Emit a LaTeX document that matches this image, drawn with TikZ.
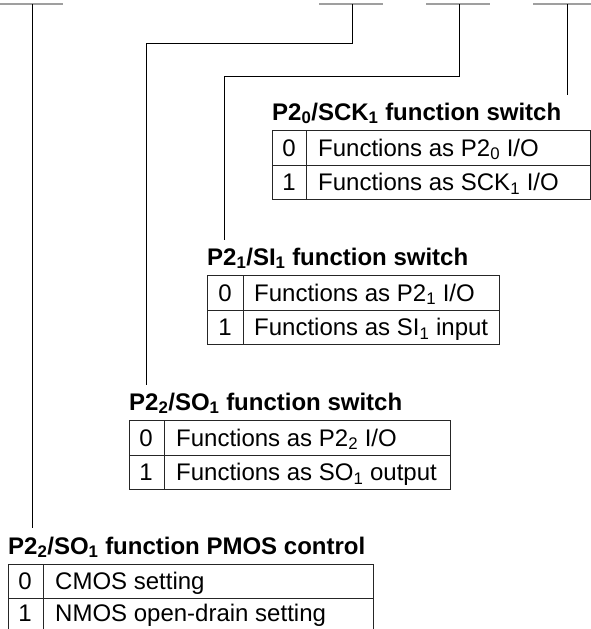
\documentclass[tikz,border=0pt]{standalone}
\usepackage{fontspec}
\setmainfont{Liberation Sans}
\begin{document}
\begin{tikzpicture}[x=1pt,y=-1pt,
  stub/.style={draw=gray!75,line width=1.6pt},
  conn/.style={draw=black,line width=0.9pt},
  tbl/.style={draw=black!85,line width=0.9pt},
  ttl/.style={anchor=base west,inner sep=0pt,font=\fontsize{24}{28}\selectfont\bfseries},
  dig/.style={anchor=base,inner sep=0pt,font=\fontsize{24}{28}\selectfont},
  txt/.style={anchor=base west,inner sep=0pt,font=\fontsize{24}{28}\selectfont}]
\useasboundingbox (0,0) rectangle (591,629);
% stubs
\coordinate (s1a) at (0,4);   \coordinate (s1b) at (63,4);
\coordinate (s2a) at (319,4); \coordinate (s2b) at (383,4);
\coordinate (s3a) at (426,4); \coordinate (s3b) at (490,4);
\coordinate (s4a) at (533,4); \coordinate (s4b) at (591,4);
\draw[stub] (s1a) -- (s1b);
\draw[stub] (s2a) -- (s2b);
\draw[stub] (s3a) -- (s3b);
\draw[stub] (s4a) -- (s4b);
\coordinate (p1) at (32,4);
\coordinate (p2) at (352,4);
\coordinate (p3) at (459,4);
\coordinate (p4) at (567,4);
\coordinate (e1) at (32,528);
\coordinate (e2) at (146,385);
\coordinate (e3) at (224,240);
\coordinate (e4) at (567,95);
\coordinate (k2) at (352,43);
\coordinate (k3) at (459,76);
% connectors
\draw[conn] (p1) -- (e1);
\draw[conn] (p2) -- (k2) -| (e2);
\draw[conn] (p3) -- (k3) -| (e3);
\draw[conn] (p4) -- (e4);
% table 1
\node[ttl] (t1) at (272,120) {P2\textsubscript{0}/SCK\textsubscript{1} function switch};
\draw[tbl] (272,130) rectangle (590,199);
\draw[tbl] (272,165) -- (590,165);
\draw[tbl] (306,130) -- (306,199);
\node[dig] (t1a) at (289,156) {0};
\node[txt] (t1b) at (318,156) {Functions as P2\textsubscript{0} I/O};
\node[dig] (t1c) at (289,190.5) {1};
\node[txt] (t1d) at (318,190.5) {Functions as SCK\textsubscript{1} I/O};
% table 2
\node[ttl] (t2) at (207,265) {P2\textsubscript{1}/SI\textsubscript{1} function switch};
\draw[tbl] (207,275) rectangle (499,344);
\draw[tbl] (207,310) -- (499,310);
\draw[tbl] (243,275) -- (243,344);
\node[dig] (t2a) at (225,301) {0};
\node[txt] (t2b) at (254,301) {Functions as P2\textsubscript{1} I/O};
\node[dig] (t2c) at (225,335.5) {1};
\node[txt] (t2d) at (254,335.5) {Functions as SI\textsubscript{1} input};
% table 3
\node[ttl] (t3) at (129,410) {P2\textsubscript{2}/SO\textsubscript{1} function switch};
\draw[tbl] (129,420) rectangle (450,489);
\draw[tbl] (129,455) -- (450,455);
\draw[tbl] (164,420) -- (164,489);
\node[dig] (t3a) at (146,446) {0};
\node[txt] (t3b) at (176,446) {Functions as P2\textsubscript{2} I/O};
\node[dig] (t3c) at (146,480.5) {1};
\node[txt] (t3d) at (176,480.5) {Functions as SO\textsubscript{1} output};
% table 4
\node[ttl] (t4) at (8,554) {P2\textsubscript{2}/SO\textsubscript{1} function PMOS control};
\draw[tbl] (8,630) -- (8,564) -- (373,564) -- (373,630);
\draw[tbl] (8,598) -- (373,598);
\draw[tbl] (43,564) -- (43,630);
\node[dig] (t4a) at (25,589) {0};
\node[txt] (t4b) at (55,589) {CMOS setting};
\node[dig] (t4c) at (25,621) {1};
\node[txt] (t4d) at (55,621) {NMOS open-drain setting};
\end{tikzpicture}
\end{document}
